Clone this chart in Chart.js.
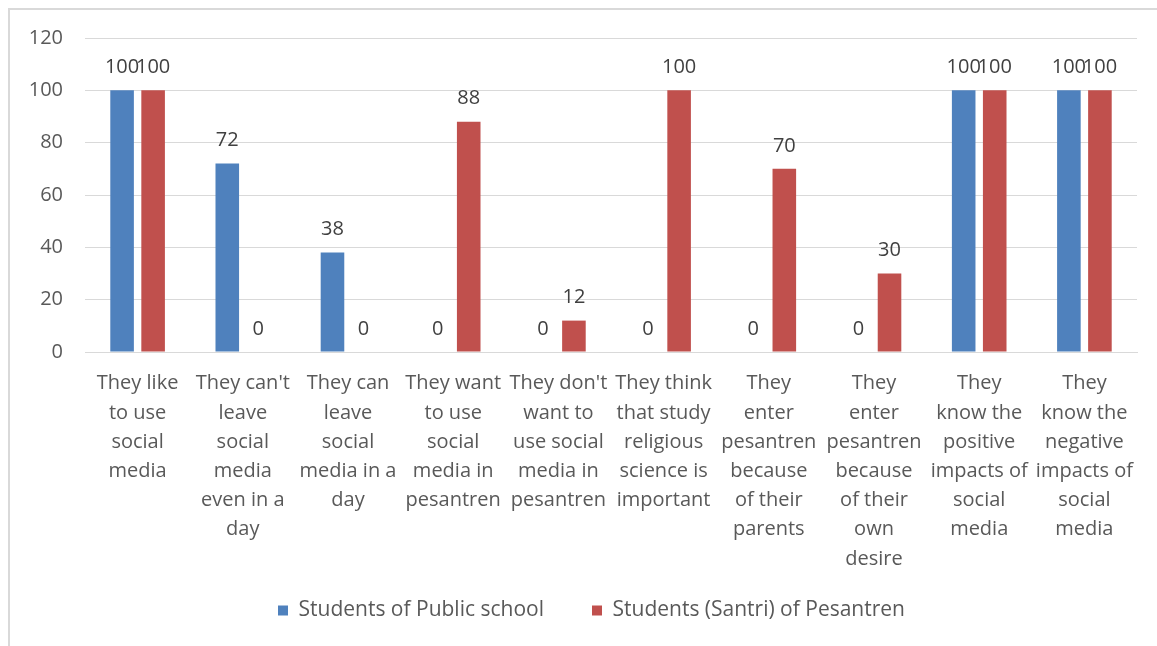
<!DOCTYPE html>
<html>
<head>
<meta charset="utf-8">
<script src="https://cdn.jsdelivr.net/npm/chart.js@4/dist/chart.umd.min.js"></script>
<style>
  html, body { margin: 0; padding: 0; background: #fff; }
  #wrap { position: relative; width: 1157px; height: 646px; overflow: hidden; }
  #frame { position: absolute; left: 8px; top: 8px; right: -10px; bottom: -10px; border-left: 2px solid #d9d9d9; border-top: 2px solid #d9d9d9; pointer-events: none; }
  canvas { position: absolute; left: 0; top: 0; }
</style>
</head>
<body>
<div id="wrap">
  <canvas id="c" width="1157" height="646"></canvas>
  <div id="frame"></div>
</div>
<script>
const categories = [
  ["They like", "to use", "social", "media"],
  ["They can't", "leave", "social", "media", "even in a", "day"],
  ["They can", "leave", "social", "media in a", "day"],
  ["They want", "to use", "social", "media in", "pesantren"],
  ["They don't", "want to", "use social", "media in", "pesantren"],
  ["They think", "that study", "religious", "science is", "important"],
  ["They", "enter", "pesantren", "because", "of their", "parents"],
  ["They", "enter", "pesantren", "because", "of their", "own", "desire"],
  ["They", "know the", "positive", "impacts of", "social", "media"],
  ["They", "know the", "negative", "impacts of", "social", "media"]
];
const publicSchool = [100, 72, 38, 0, 0, 0, 0, 0, 100, 100];
const pesantren = [100, 0, 0, 88, 12, 100, 70, 30, 100, 100];
const seriesNames = ["Students of Public school", "Students (Santri) of Pesantren"];
const yTicks = [0, 20, 40, 60, 80, 100, 120];

const FONT = "'Open Sans', 'Liberation Sans', sans-serif";

const valueLabels = {
  id: 'valueLabels',
  afterDatasetsDraw(chart) {
    const ctx = chart.ctx;
    ctx.save();
    ctx.font = "20px " + FONT;
    ctx.fillStyle = '#404040';
    ctx.textAlign = 'center';
    ctx.textBaseline = 'middle';
    chart.data.datasets.forEach((ds, i) => {
      const meta = chart.getDatasetMeta(i);
      meta.data.forEach((bar, j) => {
        ctx.fillText(String(ds.data[j]), bar.x, bar.y - 23);
      });
    });
    ctx.restore();
  }
};

// nudge the legend block up and right, as in the reference
const legendShift = {
  id: 'legendShift',
  afterLayout(chart) {
    const lg = chart.legend;
    if (!lg) return;
    lg.top -= 15; lg.bottom -= 15;
    lg.left += 18; lg.right += 18;
  }
};

new Chart(document.getElementById('c'), {
  type: 'bar',
  data: {
    labels: categories,
    datasets: [
      { label: seriesNames[0], data: publicSchool, backgroundColor: '#4f81bd', categoryPercentage: 0.59, barPercentage: 0.76 },
      { label: seriesNames[1], data: pesantren, backgroundColor: '#c0504d', categoryPercentage: 0.59, barPercentage: 0.76 }
    ]
  },
  options: {
    responsive: false,
    animation: false,
    layout: { padding: { left: 10, right: 20, top: 38, bottom: 0 } },
    plugins: {
      legend: {
        position: 'bottom',
        labels: {
          boxWidth: 10, boxHeight: 10, padding: 48,
          color: '#595959',
          font: { family: FONT, size: 21 }
        }
      },
      tooltip: { enabled: false }
    },
    scales: {
      x: {
        grid: { display: false, drawTicks: false },
        border: { display: true, color: '#d9d9d9', width: 1 },
        ticks: {
          color: '#595959', padding: 17, maxRotation: 0, autoSkip: false,
          font: { family: FONT, size: 20, lineHeight: 1.46 }
        },
        afterFit(scale) { scale.height = 215; }
      },
      y: {
        min: 0, max: 120,
        afterBuildTicks(scale) { scale.ticks = yTicks.map(v => ({ value: v })); },
        grid: { color: '#d9d9d9', lineWidth: 1, drawTicks: false },
        border: { display: false },
        ticks: {
          color: '#595959', padding: 22,
          font: { family: FONT, size: 20 }
        },
        afterFit(scale) { scale.width = 75; }
      }
    }
  },
  plugins: [valueLabels, legendShift]
});
</script>
</body>
</html>
